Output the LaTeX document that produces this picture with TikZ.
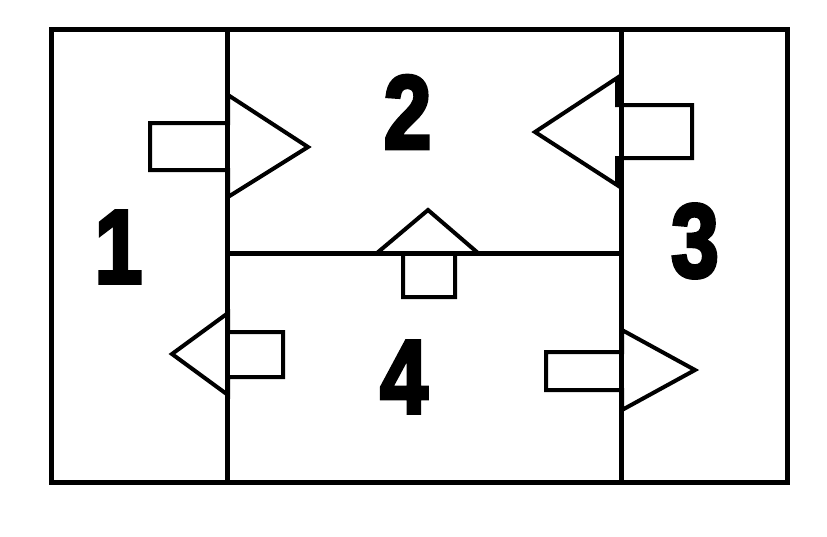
\documentclass[tikz,border=0pt]{standalone}
\usepackage{fontspec}
\newfontfamily\numfont{Liberation Sans Bold}[FakeBold=4]
\tikzset{
  frame/.style={line width=5pt, line cap=rect},
  blockarrow/.style={line width=4pt, line join=miter},
  numlabel/.style={inner sep=0pt, xscale=0.82, font=\numfont\fontsize{104}{104}\selectfont},
}
\begin{document}
\begin{tikzpicture}[x=1pt,y=-1pt]
\useasboundingbox (0,0) rectangle (827,536);
% frame
\draw[frame] (51.5,29) rectangle (787.5,482.5);
\draw[frame] (227.5,29) -- (227.5,482.5);
\draw[frame] (621.5,29) -- (621.5,482.5);
\draw[frame, line cap=butt] (227.5,253) -- (621.5,253);
% arrows
\draw[blockarrow] (150,123) -- (228,123) -- (228,95) -- (308,147) -- (228,197) -- (228,170) -- (150,170) -- cycle;
\draw[blockarrow] (692,105) -- (617,105) -- (617,78) -- (535,132) -- (617,185) -- (617,158) -- (692,158) -- cycle;
\draw[blockarrow] (403,297) -- (403,253) -- (377,253) -- (428,210) -- (478,253) -- (455,253) -- (455,297) -- cycle;
\draw[blockarrow] (283,332) -- (228,332) -- (228,313) -- (172,354) -- (228,395) -- (228,377) -- (283,377) -- cycle;
\draw[blockarrow] (546,352) -- (622,352) -- (622,330) -- (695,370) -- (622,410) -- (622,390) -- (546,390) -- cycle;
% numbers
\node[numlabel] (n1) at (118.5,247) {1};
\node[numlabel] (n2) at (407.5,112) {2};
\node[numlabel] (n3) at (695,241) {3};
\node[numlabel] (n4) at (404,377) {4};
\end{tikzpicture}
\end{document}
